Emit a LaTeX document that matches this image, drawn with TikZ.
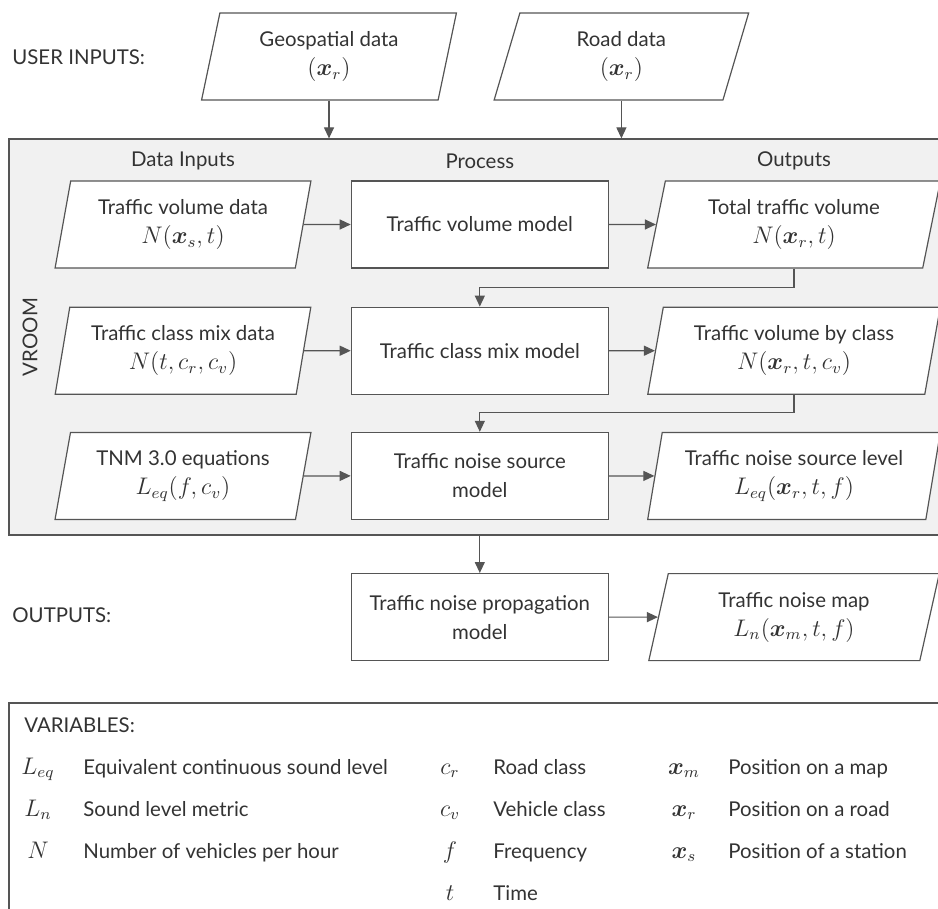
\documentclass[tikz,border=0pt]{standalone}
\usepackage{amsmath,amssymb}
\usepackage{fontspec}
\setmainfont{Lato}
\usepackage{xcolor}
\definecolor{LineGray}{HTML}{555555}
\definecolor{PanelGray}{HTML}{F1F1F1}
\definecolor{InkGray}{HTML}{333333}
\usepackage{tikz}
\usetikzlibrary{arrows.meta,positioning,shapes.geometric}

\begin{document}
\begin{tikzpicture}[
  x=0.5pt, y=-0.5pt,
  font=\fontsize{10.2}{14.5}\selectfont, text=InkGray,
  box/.style={draw=LineGray, line width=0.6pt, fill=white, align=center,
              inner sep=2pt, minimum height=43.5pt},
  proc/.style={box, minimum width=128.5pt},
  slant/.style={box, trapezium, trapezium left angle=78,
                trapezium right angle=102, trapezium stretches=true},
  datain/.style={slant, minimum width=128pt},
  dataout/.style={slant, minimum width=146.5pt},
  panel/.style={draw=LineGray, line width=0.6pt, inner sep=0pt},
  arr/.style={-{Triangle[length=5.5pt,width=5pt]}, line width=0.6pt, LineGray},
  sym/.style={inner sep=0pt, anchor=base, font=\large},
  desc/.style={inner sep=0pt, anchor=base west}
]
  \useasboundingbox (0,0) rectangle (938,909);
  \clip (0,0) rectangle (938,909);

  % panels
  \node[panel, fill=PanelGray, minimum width=468pt, minimum height=198pt]
    (vroom) at (477,337) {};
  \node[panel, fill=white, minimum width=468pt, minimum height=106pt]
    (vars) at (477,809) {};
  \node[rotate=90] (vlab) at (30,337) {VROOM};

  % user inputs
  \node[anchor=west, inner sep=0pt] (uin) at (12,57) {USER INPUTS:};
  \node[datain] (geo) at (329,56.5) {Geospatial data\\{\large$(\boldsymbol{x}_r)$}};
  \node[datain, right=29.25pt of geo] (road) {Road data\\{\large$(\boldsymbol{x}_r)$}};

  % rows
  \node[datain] (tvd) at (183,224.5) {Traffic volume data\\{\large$N(\boldsymbol{x}_s,t)$}};
  \node[proc, right=23.5pt of tvd] (tvm) {Traffic volume model};
  \node[dataout, right=23.5pt of tvm] (ttv) {Total traffic volume\\{\large$N(\boldsymbol{x}_r,t)$}};

  \node[datain, below=19pt of tvd] (cmd) {Traffic class mix data\\{\large$N(t,c_r,c_v)$}};
  \node[proc, below=19pt of tvm] (cmm) {Traffic class mix model};
  \node[dataout, below=19pt of ttv] (tvc) {Traffic volume by class\\{\large$N(\boldsymbol{x}_r,t,c_v)$}};

  \node[datain, below=18.5pt of cmd] (tnm) {TNM 3.0 equations\\{\large$L_{eq}(f,c_v)$}};
  \node[proc, below=18.5pt of cmm] (nsm) {Traffic noise source\\model};
  \node[dataout, below=18.5pt of tvc] (nsl) {Traffic noise source level\\{\large$L_{eq}(\boldsymbol{x}_r,t,f)$}};

  % column heads
  \coordinate (hdr) at (0,161);
  \node (hin) at (tvd |- hdr) {Data Inputs};
  \node (hproc) at (tvm |- hdr) {Process};
  \node (hout) at (ttv |- hdr) {Outputs};

  % outputs
  \node[anchor=west, inner sep=0pt] (uout) at (12,615) {OUTPUTS:};
  \node[proc, below=26.5pt of nsm] (npm) {Traffic noise propagation\\model};
  \node[dataout, below=26.5pt of nsl] (nmap) {Traffic noise map\\{\large$L_n(\boldsymbol{x}_m,t,f)$}};

  % connectors
  \draw[arr] (geo.south) -- (geo.south |- vroom.north);
  \draw[arr] (road.south) -- (road.south |- vroom.north);
  \draw[arr] (tvd) -- (tvm);
  \draw[arr] (tvm) -- (ttv);
  \draw[arr] (ttv.south) -- ++(0,19) -| (cmm.north);
  \draw[arr] (cmd) -- (cmm);
  \draw[arr] (cmm) -- (tvc);
  \draw[arr] (tvc.south) -- ++(0,18) -| (nsm.north);
  \draw[arr] (tnm) -- (nsm);
  \draw[arr] (nsm) -- (nsl);
  \draw[arr] (nsm.south |- vroom.south) -- (npm.north);
  \draw[arr] (npm) -- (nmap);

  % variables
  \node[anchor=west, inner sep=0pt] (vtitle) at (24,725) {VARIABLES:};
  \node[sym] (s-leq) at (38,774) {$L_{eq}$};
  \node[desc] (d-leq) at (83,774) {Equivalent continuous sound level};
  \node[sym] (s-ln) at (38,816) {$L_n$};
  \node[desc] (d-ln) at (83,816) {Sound level metric};
  \node[sym] (s-n) at (38,858) {$N$};
  \node[desc] (d-n) at (83,858) {Number of vehicles per hour};
  \node[sym] (s-cr) at (450,774) {$c_r$};
  \node[desc] (d-cr) at (493,774) {Road class};
  \node[sym] (s-cv) at (450,816) {$c_v$};
  \node[desc] (d-cv) at (493,816) {Vehicle class};
  \node[sym] (s-f) at (450,858) {$f$};
  \node[desc] (d-f) at (493,858) {Frequency};
  \node[sym] (s-t) at (450,900) {$t$};
  \node[desc] (d-t) at (493,900) {Time};
  \node[sym] (s-xm) at (684,774) {$\boldsymbol{x}_m$};
  \node[desc] (d-xm) at (728,774) {Position on a map};
  \node[sym] (s-xr) at (684,816) {$\boldsymbol{x}_r$};
  \node[desc] (d-xr) at (728,816) {Position on a road};
  \node[sym] (s-xs) at (684,858) {$\boldsymbol{x}_s$};
  \node[desc] (d-xs) at (728,858) {Position of a station};
\end{tikzpicture}
\end{document}
